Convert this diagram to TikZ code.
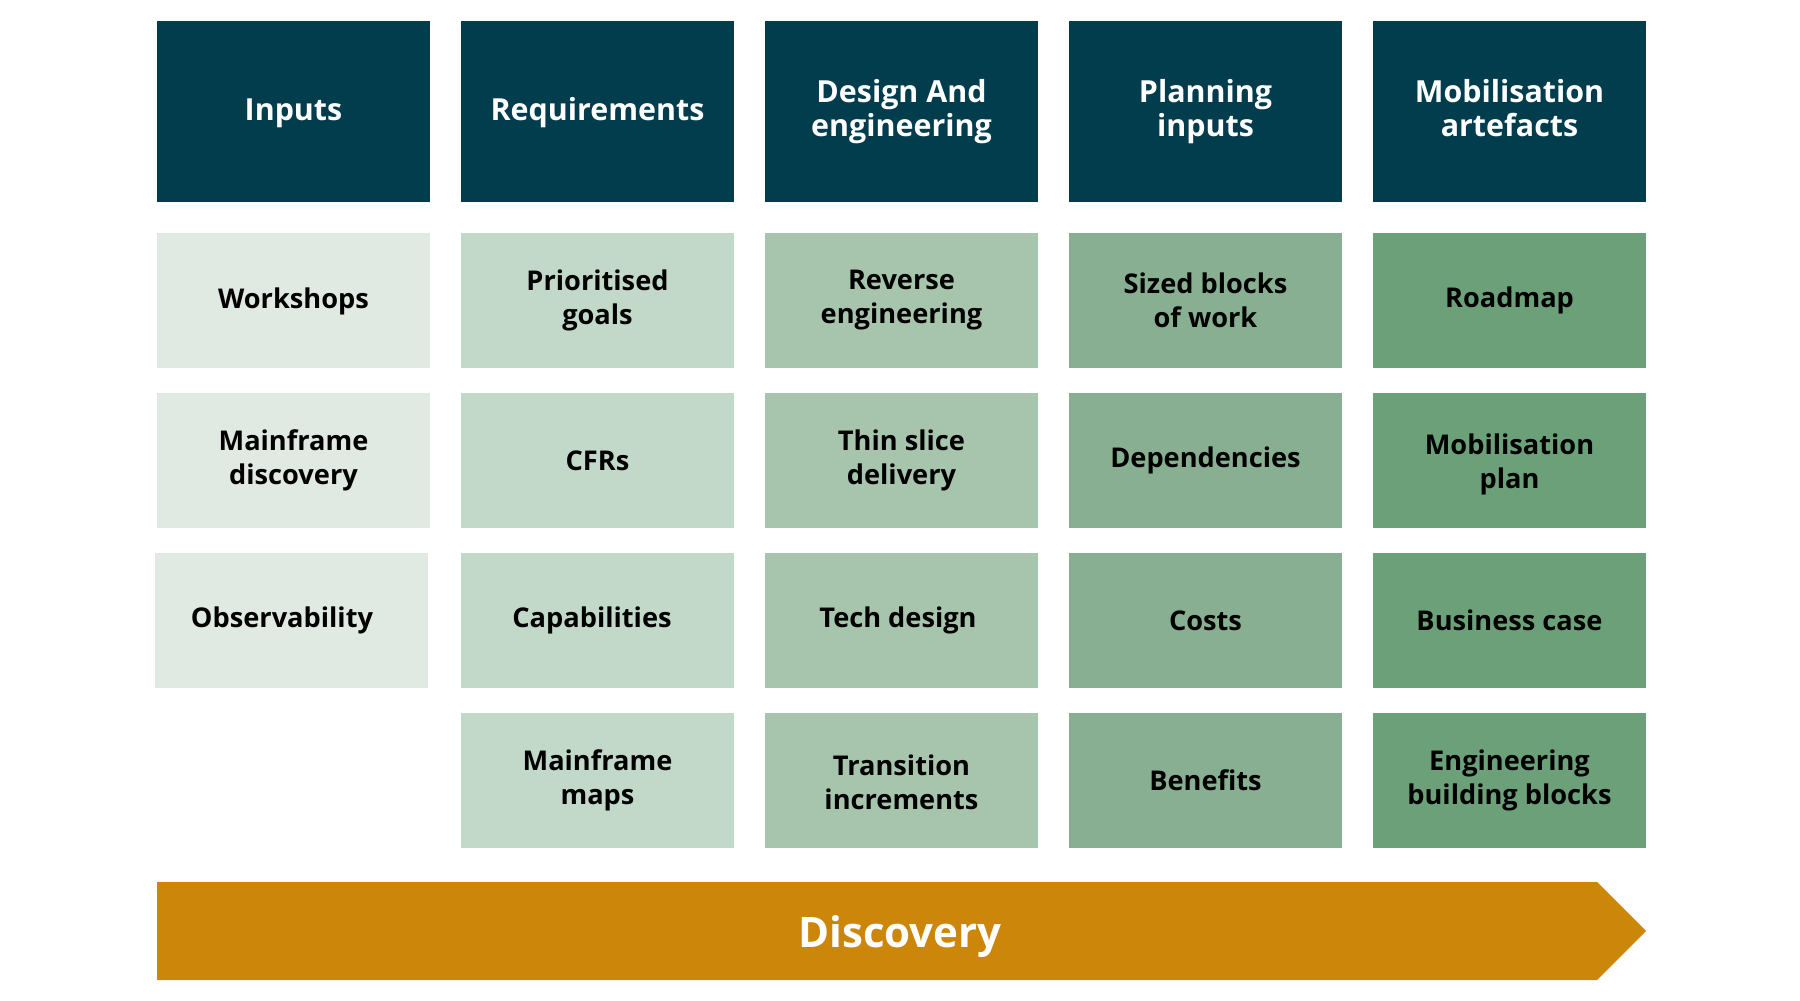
\documentclass[tikz,border=0pt]{standalone}
\usepackage{fontspec}
\setmainfont{Open Sans}
\definecolor{hdrc}{HTML}{023D4E}
\definecolor{c1}{HTML}{E0EAE2}
\definecolor{c2}{HTML}{C2D8C8}
\definecolor{c3}{HTML}{A7C4AD}
\definecolor{c4}{HTML}{88AF91}
\definecolor{c5}{HTML}{6BA079}
\definecolor{arrc}{HTML}{CC8609}
\begin{document}
\begin{tikzpicture}[x=0.5pt,y=-0.5pt,
  hf/.style={text=white, font=\fontsize{15.2}{17.3}\selectfont\bfseries},
  hdr/.style={hf, fill=hdrc, minimum width=136.5pt, minimum height=90.5pt, inner sep=0pt, align=center},
  cf/.style={font=\fontsize{13.6}{17}\selectfont\bfseries},
  cell/.style={cf, minimum width=136.5pt, minimum height=67.5pt, inner sep=0pt, align=center, text=black},
  lbl/.style={cf, inner sep=0pt, align=center},
  hlbl/.style={hf, inner sep=0pt, align=center},
  bigl/.style={text=white, inner sep=0pt, font=\fontsize{21}{25}\selectfont\bfseries}]
\useasboundingbox (0,0) rectangle (1800,1001);
\fill[white] (0,0) rectangle (1800,1001);
% headers
\node[hdr] (h1) at (293.5,111.5) {};
\node[hlbl] (h1t) at (293.5,113.5) {Inputs};
\node[hdr] (h2) at (597.5,111.5) {};
\node[hlbl] (h2t) at (597.5,113) {Requirements};
\node[hdr] (h3) at (901.5,111.5) {Design And\\engineering};
\node[hdr] (h4) at (1205.5,111.5) {Planning\\inputs};
\node[hdr] (h5) at (1509.5,111.5) {};
\node[hlbl] (h5t) at (1509.5,108) {Mobilisation\\artefacts};
% column 1
\node[cell, fill=c1] (a1) at (293.5,300.5) {};
\node[lbl] (a1t) at (293.5,301.5) {Workshops};
\node[cell, fill=c1] (a2) at (293.5,460.5) {Mainframe\\discovery};
\node[cell, fill=c1] (a3) at (291,620.5) {};
\node[lbl] (a3t) at (282,620.5) {Observability};
% column 2
\node[cell, fill=c2] (b1) at (597.5,300.5) {Prioritised\\goals};
\node[cell, fill=c2] (b2) at (597.5,460.5) {CFRs};
\node[cell, fill=c2] (b3) at (597.5,620.5) {};
\node[lbl] (b3t) at (592,620.5) {Capabilities};
\node[cell, fill=c2] (b4) at (597.5,780.5) {Mainframe\\maps};
% column 3
\node[cell, fill=c3] (c1n) at (901.5,300.5) {Reverse\\engineering};
\node[cell, fill=c3] (c2n) at (901.5,460.5) {Thin slice\\delivery};
\node[cell, fill=c3] (c3n) at (901.5,620.5) {};
\node[lbl] (c3t) at (898,620.5) {Tech design};
\node[cell, fill=c3] (c4n) at (901.5,780.5) {};
\node[lbl] (c4t) at (901.5,782) {Transition\\increments};
% column 4
\node[cell, fill=c4] (d1) at (1205.5,300.5) {Sized blocks\\of work};
\node[cell, fill=c4] (d2) at (1205.5,460.5) {Dependencies};
\node[cell, fill=c4] (d3) at (1205.5,620.5) {Costs};
\node[cell, fill=c4] (d4) at (1205.5,780.5) {Benefits};
% column 5
\node[cell, fill=c5] (e1) at (1509.5,300.5) {Roadmap};
\node[cell, fill=c5] (e2) at (1509.5,460.5) {};
\node[lbl] (e2t) at (1509.5,464.5) {Mobilisation\\plan};
\node[cell, fill=c5] (e3) at (1509.5,620.5) {Business case};
\node[cell, fill=c5] (e4) at (1509.5,780.5) {Engineering\\building blocks};
% arrow
\fill[arrc] (157,882) -- (1597,882) -- (1646,931) -- (1597,980) -- (157,980) -- cycle;
\node[bigl] (disc) at (900,937) {Discovery};
\end{tikzpicture}
\end{document}
